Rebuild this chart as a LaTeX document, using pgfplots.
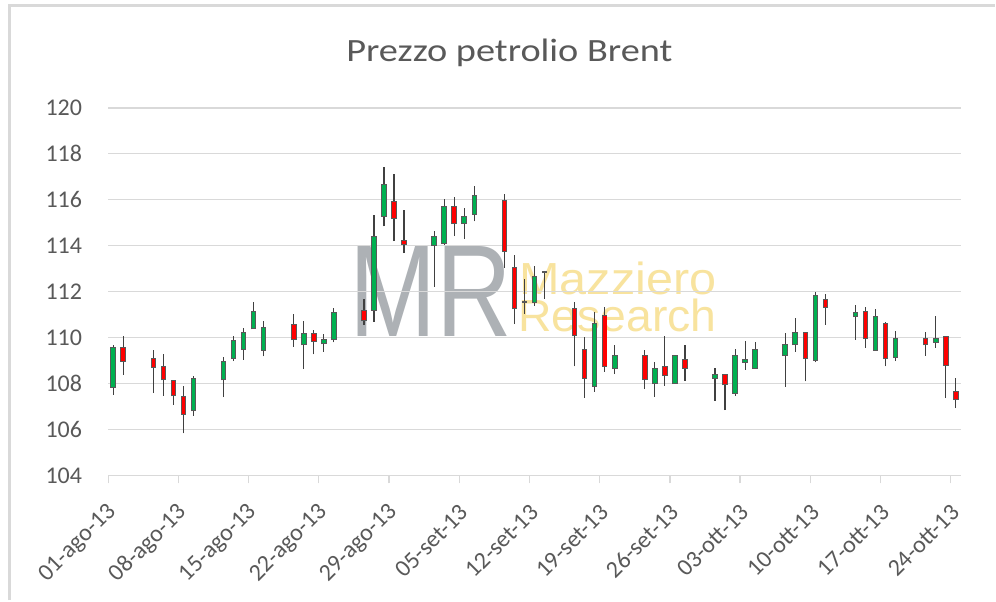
\documentclass[border=0pt]{standalone}
\usepackage{fontspec}
\usepackage{graphicx}
\usepackage{pgfplots}
\usepackage{pgfplotstable}
\pgfplotsset{compat=1.18}
\setmainfont{Carlito}
\newfontfamily\titlefont{Carlito}[FakeStretch=1.18]
\newfontfamily\wmfont{Liberation Sans}
\definecolor{txt}{HTML}{595959}
\definecolor{gridc}{HTML}{D9D9D9}
\definecolor{upc}{HTML}{00B050}
\definecolor{dnc}{HTML}{FF0000}
\definecolor{edgec}{HTML}{595959}
\definecolor{wickc}{HTML}{404040}
\definecolor{wmgray}{HTML}{ADB1B5}
\definecolor{wmyel}{HTML}{F8E39E}

\pgfplotstableread{
x o h l c
0.5 107.83 109.68 107.51 109.58
8.5 106.81 108.34 106.59 108.24
11.5 108.16 109.15 107.41 108.98
12.5 109.09 110.08 108.98 109.86
13.5 109.50 110.41 109.04 110.21
14.5 110.38 111.57 110.38 111.15
15.5 109.45 110.74 109.18 110.45
19.5 109.68 110.74 108.63 110.16
21.5 109.73 110.14 109.38 109.92
22.5 109.91 111.28 109.79 111.09
26.5 111.18 115.32 110.69 114.38
27.5 115.29 117.44 114.84 116.66
32.5 114.01 114.62 112.22 114.38
33.5 114.09 116.05 114.05 115.72
35.5 114.96 115.62 114.31 115.29
36.5 115.37 116.61 115.06 116.20
42.5 111.54 113.11 111.39 112.68
48.5 107.89 111.10 107.65 110.62
50.5 108.66 109.69 108.41 109.21
54.5 108.00 108.92 107.42 108.66
56.5 108.00 109.21 108.00 109.21
60.5 108.24 108.69 107.25 108.40
62.5 107.58 109.50 107.46 109.21
63.5 108.92 109.86 108.59 109.05
64.5 108.66 109.79 108.66 109.50
67.5 109.21 110.20 107.87 109.68
68.5 109.68 110.84 109.38 110.20
70.5 109.02 111.98 108.92 111.83
74.5 110.91 111.42 109.90 111.07
76.5 109.45 111.25 109.45 110.91
78.5 109.15 110.27 108.98 109.97
82.5 109.79 110.96 109.55 109.97
}\uptable

\pgfplotstableread{
x o h l c
1.5 109.58 110.08 108.38 108.98
4.5 109.11 109.47 107.58 108.70
5.5 108.76 109.27 107.46 108.16
6.5 108.12 108.15 107.07 107.46
7.5 107.44 107.89 105.83 106.66
18.5 110.55 111.03 109.60 109.91
20.5 110.16 110.35 109.27 109.85
25.5 111.18 111.69 110.55 110.74
28.5 115.91 117.14 114.20 115.18
29.5 114.23 115.54 113.68 114.04
34.5 115.72 116.13 114.42 114.96
39.5 115.95 116.27 113.04 113.75
40.5 113.07 113.58 110.59 111.25
46.5 111.25 111.54 108.75 110.08
47.5 109.50 110.01 107.39 108.24
49.5 110.96 111.31 108.51 108.76
53.5 109.20 109.47 107.76 108.19
55.5 108.75 110.08 107.90 108.34
57.5 109.05 109.68 108.12 108.66
61.5 108.40 108.40 106.84 107.94
69.5 110.23 110.23 108.09 109.09
71.5 111.64 111.90 110.55 111.32
75.5 111.13 111.32 109.55 109.97
77.5 110.62 110.69 108.75 109.09
81.5 109.97 110.23 109.21 109.68
83.5 110.04 110.04 107.36 108.80
84.5 107.65 108.24 106.93 107.32
}\dntable

\pgfplotstableread{
x o h l c
41.5 111.52 112.53 111.03 111.56
43.5 112.83 112.89 111.69 112.87
}\dojitable

\newcommand{\wicks}[1]{%
\addplot[draw=none, mark=none, forget plot,
  error bars/.cd, y dir=plus, y explicit, error mark=none,
  error bar style={line width=1.2pt, draw=wickc}]
  table[x=x, y=l, y error plus expr={\thisrow{h}-\thisrow{l}}] {#1};}
\newcommand{\bodyedge}[1]{%
\addplot[draw=none, mark=none, forget plot,
  error bars/.cd, y dir=plus, y explicit, error mark=none,
  error bar style={line width=5.6pt, draw=edgec, shorten <=-0.5pt, shorten >=-0.5pt}]
  table[x=x, y expr={min(\thisrow{o},\thisrow{c})}, y error plus expr={abs(\thisrow{c}-\thisrow{o})}] {#1};}
\newcommand{\bodyfill}[2]{%
\addplot[draw=none, mark=none, forget plot,
  error bars/.cd, y dir=plus, y explicit, error mark=none,
  error bar style={line width=3.6pt, draw=#2, shorten <=0.5pt, shorten >=0.5pt}]
  table[x=x, y expr={min(\thisrow{o},\thisrow{c})}, y error plus expr={abs(\thisrow{c}-\thisrow{o})}] {#1};}

\begin{document}
\begin{tikzpicture}[x=1pt,y=1pt]
\fill[white] (0,0) rectangle (996,601);
% frame
\draw[gridc, line width=2.5pt] (9.7,0) -- (9.7,595.5) -- (996,595.5);
% title
\node[anchor=base, text=txt, inner sep=0pt] at (510,539.3)
  {\titlefont\fontsize{32.5}{32.5}\selectfont Prezzo petrolio Brent};
% watermark
\node[anchor=base west, text=wmgray, inner sep=0pt] at (350,264)
  {\scalebox{0.8}[1]{\wmfont\fontsize{131}{131}\selectfont MR}};
\node[anchor=base west, text=wmyel, inner sep=0pt] at (520,306)
  {\scalebox{1.08}[1]{\wmfont\fontsize{45}{45}\selectfont Mazziero}};
\node[anchor=base west, text=wmyel, inner sep=0pt] at (519,269)
  {\scalebox{1.03}[1]{\wmfont\fontsize{45}{45}\selectfont Research}};
\begin{axis}[
  at={(108.3pt,125pt)}, anchor=south west,
  scale only axis, width=853.7pt, height=368pt,
  xmin=0, xmax=85, ymin=104, ymax=120,
  axis x line*=bottom, axis y line*=left,
  x axis line style={draw=gridc, line width=1.3pt},
  y axis line style={draw=none},
  xtick={0,7,...,84},
  xticklabels={01-ago-13,08-ago-13,15-ago-13,22-ago-13,29-ago-13,05-set-13,12-set-13,19-set-13,26-set-13,03-ott-13,10-ott-13,17-ott-13,24-ott-13},
  ytick={104,106,...,120},
  tick align=outside,
  major tick length=8pt,
  xtick style={draw=gridc, line width=1.3pt},
  ytick style={draw=none},
  ymajorgrids,
  major grid style={draw=gridc, line width=1.3pt},
  /pgf/number format/assume math mode=true,
  ticklabel style={font=\fontsize{24}{24}\selectfont, text=txt},
  yticklabel style={anchor=east, inner sep=0pt, xshift=-18pt},
  xticklabel style={inner sep=0pt, xshift=5pt, yshift=-25pt, rotate=45, anchor=east},
  clip=false,
]
\wicks{\uptable}
\wicks{\dntable}
\wicks{\dojitable}
\bodyedge{\uptable}
\bodyedge{\dntable}
\bodyedge{\dojitable}
\bodyfill{\uptable}{upc}
\bodyfill{\dntable}{dnc}
\end{axis}
\end{tikzpicture}
\end{document}
